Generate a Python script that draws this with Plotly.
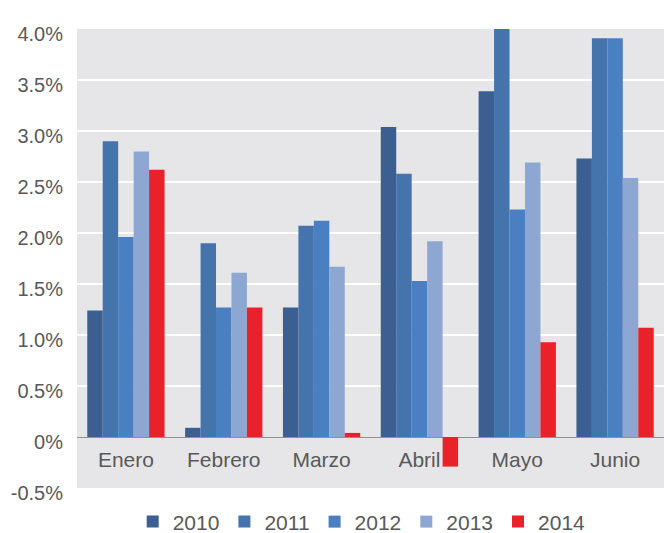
import plotly.graph_objects as go

months = ["Enero", "Febrero", "Marzo", "Abril", "Mayo", "Junio"]
years = ["2010", "2011", "2012", "2013", "2014"]
v2010 = [1.24, 0.09, 1.27, 3.04, 3.39, 2.73]
v2011 = [2.90, 1.90, 2.07, 2.58, 4.00, 3.91]
v2012 = [1.96, 1.27, 2.12, 1.53, 2.23, 3.91]
v2013 = [2.80, 1.61, 1.67, 1.92, 2.69, 2.54]
v2014 = [2.62, 1.27, 0.04, -0.29, 0.93, 1.07]
tick_vals = [-0.5, 0, 0.5, 1.0, 1.5, 2.0, 2.5, 3.0, 3.5, 4.0]
tick_text = ["-0.5%", "0%", "0.5%", "1.0%", "1.5%", "2.0%", "2.5%", "3.0%", "3.5%", "4.0%"]

series = [v2010, v2011, v2012, v2013, v2014]
colors = ["#3b5f91", "#4573ab", "#4a7fc2", "#8ea7d2", "#e8212a"]

FONT = "Liberation Sans, Arial, sans-serif"
fig = go.Figure()
for name, vals, c in zip(years, series, colors):
    fig.add_trace(go.Bar(x=months, y=vals, name=name, marker=dict(color=c, line=dict(width=0))))

fig.update_layout(
    width=664, height=533,
    margin=dict(l=77, r=0, t=29, b=45, autoexpand=False),
    paper_bgcolor="white",
    plot_bgcolor="#e6e6e8",
    barmode="group",
    bargap=0.21,
    bargroupgap=0,
    font=dict(family=FONT, size=20, color="#595959"),
    legend=dict(orientation="h", x=0.485, xanchor="center", y=-0.074, yanchor="middle",
                font=dict(size=21, color="#595959"), itemwidth=30, tracegroupgap=0,
                itemclick=False),
    showlegend=True,
)
fig.update_yaxes(range=[-0.5, 4.0], tickvals=tick_vals, ticktext=tick_text,
                 showgrid=True, gridcolor="white", gridwidth=2,
                 zeroline=True, zerolinecolor="#909090", zerolinewidth=1,
                 ticks="", ticklabelshift=5, ticklabelstandoff=13,
                 tickfont=dict(size=20, color="#595959"), automargin=False)
fig.update_xaxes(anchor="free", position=0.093, showline=False, ticks="",
                 showgrid=False, tickfont=dict(size=21, color="#595959"), automargin=False)

fig.write_html("out.html")
